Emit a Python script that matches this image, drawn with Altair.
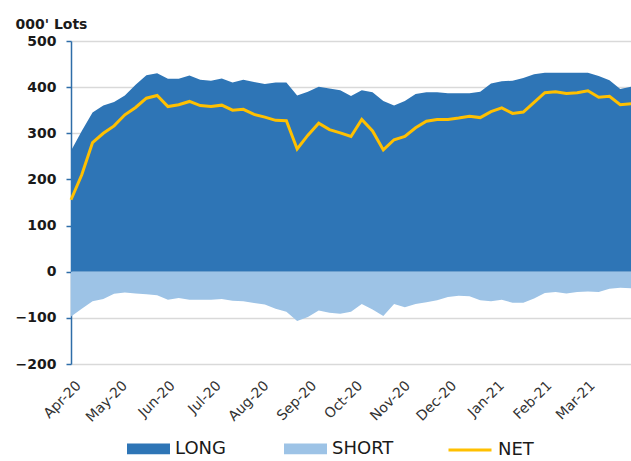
import altair as alt
import pandas as pd

# Weekly positioning (thousand lots), one value per week from 31 Mar 2020
week_start = "2020-03-31"
n_weeks = 53

long_pos = [262, 305, 345, 360, 368, 382, 405, 426, 430, 418,
            418, 425, 416, 414, 419, 410, 416, 411, 407, 410,
            410, 382, 390, 401, 397, 393, 381, 393, 389, 370,
            360, 370, 385, 389, 389, 387, 387, 387, 390, 408,
            413, 414, 420, 428, 431, 431, 431, 431, 431, 424,
            415, 396, 401]

short_pos = [-97, -80, -64, -59, -48, -45, -47, -49, -51, -61,
             -57, -61, -61, -61, -59, -63, -64, -68, -71, -80,
             -87, -107, -98, -84, -89, -91, -87, -70, -82, -96,
             -70, -77, -70, -66, -62, -55, -52, -53, -62, -64,
             -61, -67, -67, -58, -46, -44, -47, -44, -43, -44,
             -37, -35, -36]

net_pos = [156, 210, 280, 300, 316, 340, 356, 376, 382, 358,
           362, 369, 360, 358, 361, 350, 352, 341, 335, 328,
           327, 266, 296, 322, 308, 301, 293, 330, 305, 264,
           286, 293, 312, 326, 330, 330, 333, 337, 334, 347,
           355, 343, 346, 367, 388, 390, 386, 388, 392, 378,
           380, 362, 364]

y_ticks = [-200, -100, 0, 100, 200, 300, 400, 500]
month_ticks = ["2020-04-01", "2020-05-01", "2020-06-01", "2020-07-01",
               "2020-08-01", "2020-09-01", "2020-10-01", "2020-11-01",
               "2020-12-01", "2021-01-01", "2021-02-01", "2021-03-01"]

dates = pd.date_range(week_start, periods=n_weeks, freq="7D")

areas = pd.concat([
    pd.DataFrame({"date": dates, "value": long_pos, "series": "LONG"}),
    pd.DataFrame({"date": dates, "value": short_pos, "series": "SHORT"}),
])
net = pd.DataFrame({"date": dates, "value": net_pos, "kind": "NET"})

FONT = "DejaVu Sans"
x_domain = [dates[0].strftime("%Y-%m-%dT00:00:00"), dates[-1].strftime("%Y-%m-%dT00:00:00")]
tick_vals = [alt.DateTime(year=int(m[:4]), month=int(m[5:7]), date=1) for m in month_ticks]

x_enc = alt.X(
    "date:T",
    scale=alt.Scale(domain=x_domain, nice=False),
    axis=alt.Axis(
        values=tick_vals, format="%b-%y", title=None, grid=False, domain=False,
        ticks=False, tickSize=0, labelAngle=-45, labelAlign="right",
        labelBaseline="middle", labelPadding=19, labelOffset=6,
        labelOverlap=False, labelFont=FONT, labelFontSize=14,
        labelColor="#333333",
    ),
)

y_scale = alt.Scale(domain=[-200, 500], nice=False)
y_axis = alt.Axis(
    values=y_ticks, grid=True, gridColor="#d9d9d9", gridWidth=1.5,
    domain=True, domainColor="#2E6DA8", domainWidth=1.5,
    ticks=True, tickColor="#2E6DA8", tickSize=5, tickWidth=1.5,
    labelPadding=10, labelFont=FONT, labelFontSize=14, labelFontWeight="bold",
    labelColor="#1a1a1a",
    title="000' Lots", titleAngle=0, titleAlign="left", titleBaseline="alphabetic",
    titleX=-56, titleY=-13, titleFont=FONT, titleFontSize=14,
    titleFontWeight="bold", titleColor="#1a1a1a",
)

area_layer = alt.Chart(areas).mark_area(opacity=1).encode(
    x=x_enc,
    y=alt.Y("value:Q", stack=None, scale=y_scale, axis=y_axis),
    fill=alt.Fill(
        "series:N",
        scale=alt.Scale(domain=["LONG", "SHORT"], range=["#2E75B6", "#9DC3E6"]),
        legend=alt.Legend(
            orient="none", legendX=56, legendY=386, direction="horizontal",
            title=None, padding=0, symbolType="M-1,-0.25H1V0.25H-1Z",
            symbolSize=1849, symbolStrokeWidth=0, columnPadding=58,
            labelOffset=5, labelFont=FONT, labelFontSize=18,
            labelColor="#1a1a1a",
        ),
    ),
)

net_layer = alt.Chart(net).mark_line(strokeWidth=3).encode(
    x=alt.X("date:T"),
    y=alt.Y("value:Q"),
    stroke=alt.Stroke(
        "kind:N",
        scale=alt.Scale(domain=["NET"], range=["#FFC000"]),
        legend=alt.Legend(
            orient="none", legendX=376, legendY=386, direction="horizontal",
            title=None, padding=0, symbolType="stroke", symbolSize=1849,
            symbolStrokeWidth=3, labelOffset=5, labelFont=FONT,
            labelFontSize=18, labelColor="#1a1a1a",
        ),
    ),
)

chart = (
    alt.layer(area_layer, net_layer)
    .resolve_scale(y="shared")
    .properties(
        width=560, height=323,
        autosize=alt.AutoSizeParams(type="none"),
        padding={"left": 71, "top": 41, "right": 0, "bottom": 97},
        background="white",
    )
    .configure_view(stroke=None)
)

chart.save("out.html", embed_options={"renderer": "svg", "actions": False})
